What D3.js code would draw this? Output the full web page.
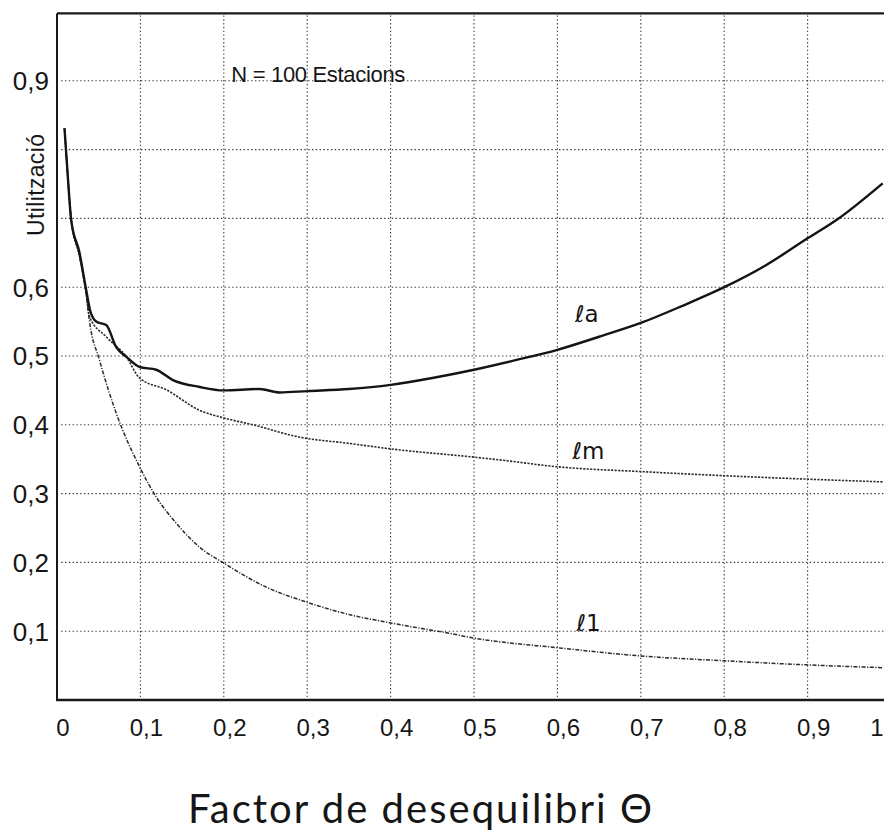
<!DOCTYPE html>
<meta charset="utf-8">
<style>
body { margin: 0; background: #fff; }
svg { display: block; }
.tick-x, .tick-y { font-family: "Liberation Sans", Arial, sans-serif; fill: #161616; }
</style>
<svg width="884" height="834"></svg>
<script src="https://d3js.org/d3.v7.min.js"></script>
<script>
// values (N = 100 stations)
var xTicks = [0, 0.1, 0.2, 0.3, 0.4, 0.5, 0.6, 0.7, 0.8, 0.9, 1];
var xTickLabels = ["0", "0,1", "0,2", "0,3", "0,4", "0,5", "0,6", "0,7", "0,8", "0,9", "1"];
var yGrid = [0.1, 0.2, 0.3, 0.4, 0.5, 0.6, 0.7, 0.8, 0.9];
var yTicks = [0.1, 0.2, 0.3, 0.4, 0.5, 0.6, 0.9];
var yTickLabels = ["0,1", "0,2", "0,3", "0,4", "0,5", "0,6", "0,9"];

// la : solid curve
var laTheta = [0.009, 0.013, 0.017, 0.027, 0.035, 0.040, 0.047, 0.059, 0.071, 0.083, 0.099, 0.119, 0.139, 0.171, 0.20, 0.243, 0.267, 0.30, 0.35, 0.40, 0.45, 0.50, 0.55, 0.60, 0.65, 0.70, 0.75, 0.80, 0.85, 0.90, 0.935, 0.99];
var laUtil  = [0.831, 0.760, 0.698, 0.650, 0.596, 0.565, 0.550, 0.545, 0.513, 0.499, 0.484, 0.480, 0.465, 0.455, 0.450, 0.452, 0.447, 0.449, 0.452, 0.458, 0.468, 0.480, 0.494, 0.509, 0.528, 0.548, 0.573, 0.600, 0.632, 0.671, 0.698, 0.751];

// lm : dotted curve
var lmTheta = [0.009, 0.013, 0.017, 0.027, 0.035, 0.039, 0.059, 0.083, 0.099, 0.131, 0.171, 0.20, 0.235, 0.291, 0.35, 0.40, 0.50, 0.531, 0.60, 0.70, 0.80, 0.90, 0.99];
var lmUtil  = [0.831, 0.760, 0.698, 0.645, 0.590, 0.557, 0.528, 0.499, 0.468, 0.451, 0.421, 0.410, 0.400, 0.382, 0.373, 0.365, 0.353, 0.349, 0.339, 0.332, 0.326, 0.321, 0.317];

// l1 : dash-dot curve
var l1Theta = [0.009, 0.013, 0.017, 0.027, 0.035, 0.039, 0.051, 0.071, 0.099, 0.119, 0.143, 0.171, 0.20, 0.251, 0.30, 0.351, 0.40, 0.47, 0.50, 0.60, 0.70, 0.80, 0.90, 0.99];
var l1Util  = [0.831, 0.760, 0.698, 0.645, 0.590, 0.550, 0.494, 0.417, 0.339, 0.295, 0.257, 0.222, 0.199, 0.164, 0.142, 0.124, 0.112, 0.097, 0.090, 0.076, 0.064, 0.057, 0.051, 0.047];

var svg = d3.select("svg"),
    width = +svg.attr("width"),
    height = +svg.attr("height");

var x = d3.scaleLinear().domain([0, 1]).range([57, 891]);
var y = d3.scaleLinear().domain([0, 1]).range([700, 12]);

svg.append("rect").attr("width", width).attr("height", height).attr("fill", "#fff");

// dotted grid
var grid = svg.append("g")
    .attr("stroke", "#3a3a3a")
    .attr("stroke-width", 1.1)
    .attr("stroke-dasharray", "1.4,2.4");

grid.selectAll("line.h")
  .data(yGrid)
  .enter().append("line")
    .attr("class", "h")
    .attr("x1", x(0.005)).attr("x2", width)
    .attr("y1", function(d) { return y(d); })
    .attr("y2", function(d) { return y(d); });

grid.selectAll("line.v")
  .data(xTicks.slice(1))
  .enter().append("line")
    .attr("class", "v")
    .attr("x1", function(d) { return x(d); })
    .attr("x2", function(d) { return x(d); })
    .attr("y1", y(0.995)).attr("y2", y(0));

// frame: top border, left and bottom axes
svg.append("line")
    .attr("x1", x(0)).attr("x2", width)
    .attr("y1", y(0.998)).attr("y2", y(0.998))
    .attr("stroke", "#1a1a1a").attr("stroke-width", 2.4);
svg.append("line")
    .attr("x1", x(0)).attr("x2", x(0))
    .attr("y1", y(0.998)).attr("y2", y(0))
    .attr("stroke", "#1a1a1a").attr("stroke-width", 2);
svg.append("line")
    .attr("x1", x(0) - 1).attr("x2", width)
    .attr("y1", y(0)).attr("y2", y(0))
    .attr("stroke", "#1a1a1a").attr("stroke-width", 2.6);

// tick labels
svg.append("g").selectAll("text")
  .data(xTicks)
  .enter().append("text")
    .attr("class", "tick-x")
    .attr("x", function(d) { return x(d) + 6; })
    .attr("y", 736)
    .attr("dx", function(d, i) { return i === xTicks.length - 1 ? -20 : 0; })
    .attr("text-anchor", "middle")
    .style("font-size", "24px")
    .text(function(d, i) { return xTickLabels[i]; });

svg.append("g").selectAll("text")
  .data(yTicks)
  .enter().append("text")
    .attr("class", "tick-y")
    .attr("x", x(0) - 8)
    .attr("y", function(d) { return y(d); })
    .attr("dy", "0.36em")
    .attr("text-anchor", "end")
    .style("font-size", "26px")
    .text(function(d, i) { return yTickLabels[i]; });

// curves
function series(ts, us) {
  return ts.map(function(t, i) { return [t, us[i]]; });
}
var line = d3.line()
    .x(function(d) { return x(d[0]); })
    .y(function(d) { return y(d[1]); })
    .curve(d3.curveMonotoneX);

svg.append("path")
    .datum(series(l1Theta, l1Util))
    .attr("d", line)
    .attr("fill", "none")
    .attr("stroke", "#2a2a2a")
    .attr("stroke-width", 1.5)
    .attr("stroke-dasharray", "4,1.5,1.2,1.5");

svg.append("path")
    .datum(series(lmTheta, lmUtil))
    .attr("d", line)
    .attr("fill", "none")
    .attr("stroke", "#2a2a2a")
    .attr("stroke-width", 1.6)
    .attr("stroke-dasharray", "2.2,1.3");

svg.append("path")
    .datum(series(laTheta, laUtil))
    .attr("d", line)
    .attr("fill", "none")
    .attr("stroke", "#141414")
    .attr("stroke-width", 2.4);

// curve labels
var labels = [
  {t: "ℓa", x: 0.621, y: 0.55},
  {t: "ℓm", x: 0.618, y: 0.35},
  {t: "ℓ1", x: 0.623, y: 0.10}
];
svg.append("g").selectAll("text")
  .data(labels)
  .enter().append("text")
    .attr("x", function(d) { return x(d.x); })
    .attr("y", function(d) { return y(d.y); })
    .attr("font-family", "'DejaVu Sans', sans-serif")
    .style("font-size", "23px")
    .attr("fill", "#161616")
    .text(function(d) { return d.t; });

// annotation
svg.append("text")
    .attr("x", x(0.209))
    .attr("y", 82)
    .attr("font-family", "'Liberation Sans', Arial, sans-serif")
    .style("font-size", "22px")
    .attr("fill", "#161616")
    .attr("textLength", 174)
    .text("N = 100 Estacions");

// axis titles
svg.append("text")
    .attr("transform", "translate(44,185) rotate(-90)")
    .attr("text-anchor", "middle")
    .attr("font-family", "'Liberation Sans', Arial, sans-serif")
    .style("font-size", "23px")
    .attr("fill", "#161616")
    .attr("textLength", 102)
    .text("Utilització");

svg.append("text")
    .attr("x", 188)
    .attr("y", 823)
    .attr("font-family", "Lato, 'DejaVu Sans', sans-serif")
    .style("font-size", "40px")
    .attr("fill", "#161616")
    .attr("textLength", 464)
    .text("Factor  de  desequilibri  Θ");
</script>
